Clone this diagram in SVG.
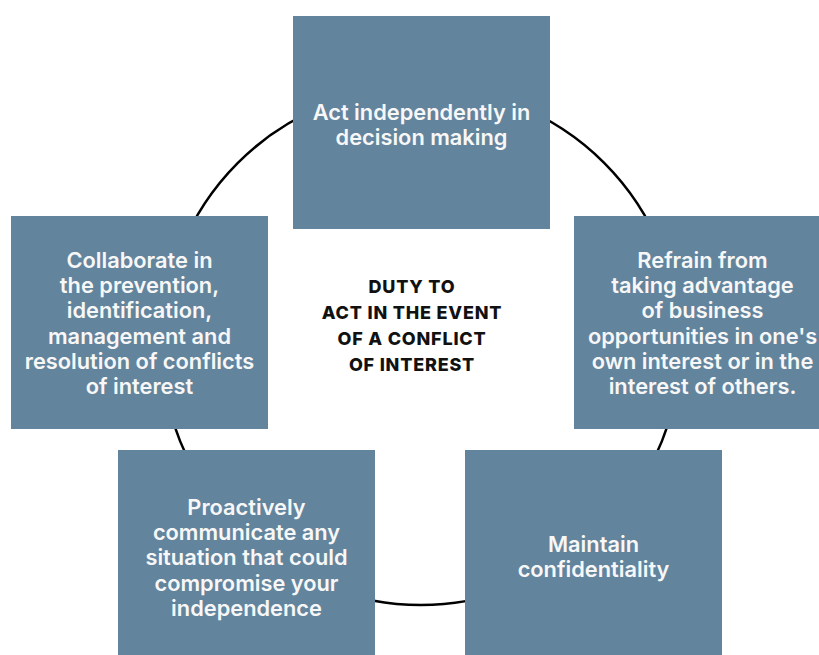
<svg xmlns="http://www.w3.org/2000/svg" width="819" height="655" viewBox="0 0 819 655">
<style>
.box{fill:#63849d}
.t{font-family:Inter,"Noto Sans","Liberation Sans",sans-serif;font-size:21.8px;font-weight:600;fill:#f7f7f7;text-anchor:middle}
.c{font-family:Inter,"Noto Sans","Liberation Sans",sans-serif;font-size:18px;font-weight:800;letter-spacing:0.8px;fill:#111;text-anchor:middle}
</style>
<rect width="819" height="655" fill="#fff"/>
<g id="connectors">
<circle cx="421" cy="346" r="259" fill="none" stroke="#000" stroke-width="2.5"/>
</g>
<g id="center">
<text class="c"><tspan x="412" y="293">DUTY TO</tspan><tspan x="412" y="319">ACT IN THE EVENT</tspan><tspan x="412" y="345">OF A CONFLICT</tspan><tspan x="412" y="371">OF INTEREST</tspan></text>
</g>
<g id="node-top">
<rect class="box" x="293" y="16" width="257" height="213"/>
<text class="t"><tspan x="421.5" y="120">Act independently in</tspan><tspan x="421.5" y="145">decision making</tspan></text>
</g>
<g id="node-left">
<rect class="box" x="11" y="216" width="257" height="213"/>
<text class="t"><tspan x="139.5" y="268">Collaborate in</tspan><tspan x="139.5" y="293">the prevention,</tspan><tspan x="139.5" y="318">identification,</tspan><tspan x="139.5" y="344">management and</tspan><tspan x="139.5" y="369">resolution of conflicts</tspan><tspan x="139.5" y="394">of interest</tspan></text>
</g>
<g id="node-right">
<rect class="box" x="574" y="216" width="257" height="213"/>
<text class="t"><tspan x="702.5" y="268">Refrain from</tspan><tspan x="702.5" y="293">taking advantage</tspan><tspan x="702.5" y="318">of business</tspan><tspan x="702.5" y="344">opportunities in one's</tspan><tspan x="702.5" y="369">own interest or in the</tspan><tspan x="702.5" y="394">interest of others.</tspan></text>
</g>
<g id="node-bottom-left">
<rect class="box" x="118" y="450" width="257" height="213"/>
<text class="t"><tspan x="246.5" y="515">Proactively</tspan><tspan x="246.5" y="540">communicate any</tspan><tspan x="246.5" y="565">situation that could</tspan><tspan x="246.5" y="591">compromise your</tspan><tspan x="246.5" y="616">independence</tspan></text>
</g>
<g id="node-bottom-right">
<rect class="box" x="465" y="450" width="257" height="213"/>
<text class="t"><tspan x="593.5" y="552">Maintain</tspan><tspan x="593.5" y="577">confidentiality</tspan></text>
</g>
</svg>
